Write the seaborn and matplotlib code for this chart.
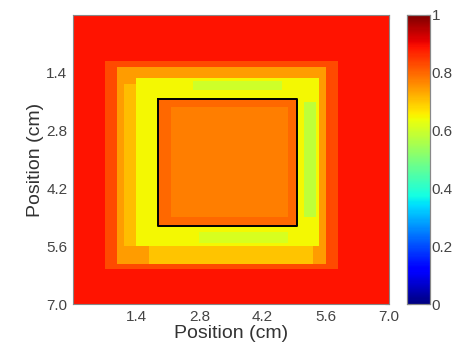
import numpy as np
import pandas as pd
import seaborn as sns
import matplotlib.pyplot as plt

# Grid: 100 x 100 cells over 7.0 cm
n_cells = 100
cell_cm = 0.07

# Nested rectangular zones (cell index ranges, value)
zone_vals = [0.89, 0.83, 0.745, 0.645, 0.80, 0.775]
zone_col_lo = [0, 10, 14, 20, 27, 31]
zone_col_hi = [100, 84, 80, 78, 71, 68]
zone_row_lo = [0, 16, 18, 22, 29, 32]
zone_row_hi = [100, 88, 86, 80, 73, 70]

# Lighter / greenish patches on the ring
patch_vals = [0.71, 0.70, 0.60, 0.58, 0.61]
patch_col_lo = [16, 24, 38, 73, 40]
patch_col_hi = [20, 76, 66, 77, 68]
patch_row_lo = [24, 80, 23, 30, 75]
patch_row_hi = [80, 86, 26, 70, 79]

# Black outline of the inner region (cm)
box_x = [1.89, 4.97]
box_y = [2.03, 5.11]

tick_vals = [1.4, 2.8, 4.2, 5.6, 7.0]
tick_labels = ['1.4', '2.8', '4.2', '5.6', '7.0']
cbar_ticks = [0, 0.2, 0.4, 0.6, 0.8, 1]
cbar_labels = ['0', '0.2', '0.4', '0.6', '0.8', '1']

grid = np.zeros((n_cells, n_cells))
for v, c0, c1, r0, r1 in zip(zone_vals, zone_col_lo, zone_col_hi, zone_row_lo, zone_row_hi):
    grid[r0:r1, c0:c1] = v
for v, c0, c1, r0, r1 in zip(patch_vals, patch_col_lo, patch_col_hi, patch_row_lo, patch_row_hi):
    grid[r0:r1, c0:c1] = v
df = pd.DataFrame(grid)

sns.set_style('white')
plt.rcParams['font.family'] = ['Liberation Sans', 'DejaVu Sans']

fig = plt.figure(figsize=(4.62, 3.54), dpi=100)
ax = fig.add_axes([0.158, 0.141, 0.684, 0.817])
cax = fig.add_axes([0.881, 0.141, 0.050, 0.817])

sns.heatmap(df, cmap='jet', vmin=0, vmax=1, ax=ax, cbar_ax=cax,
            xticklabels=False, yticklabels=False, rasterized=True)

# inner box
bx = [box_x[0], box_x[1], box_x[1], box_x[0], box_x[0]]
by = [box_y[0], box_y[0], box_y[1], box_y[1], box_y[0]]
ax.plot(np.array(bx) / cell_cm, np.array(by) / cell_cm, color='black', lw=1.4)

ax.set_xticks(np.array(tick_vals) / cell_cm)
ax.set_xticklabels(tick_labels, fontsize=11, color='#444444')
ax.set_yticks(np.array(tick_vals) / cell_cm)
ax.set_yticklabels(tick_labels, fontsize=11, color='#444444', rotation=0)
ax.tick_params(direction='in', length=3, top=True, right=True, color='#555555', pad=4)
ax.set_xlabel('Position (cm)', fontsize=14, color='#333333', labelpad=1)
ax.set_ylabel('Position (cm)', fontsize=14, color='#333333', labelpad=2)
for s in ax.spines.values():
    s.set_visible(True)
    s.set_color('#888888')
    s.set_linewidth(0.8)

cax.set_yticks(cbar_ticks)
cax.set_yticklabels(cbar_labels, fontsize=11, color='#444444')
cax.tick_params(direction='in', length=3, left=True, right=True, color='#555555', pad=1)
for s in cax.spines.values():
    s.set_visible(True)
    s.set_color('#888888')
    s.set_linewidth(0.8)

plt.savefig('out.png', dpi=100)
